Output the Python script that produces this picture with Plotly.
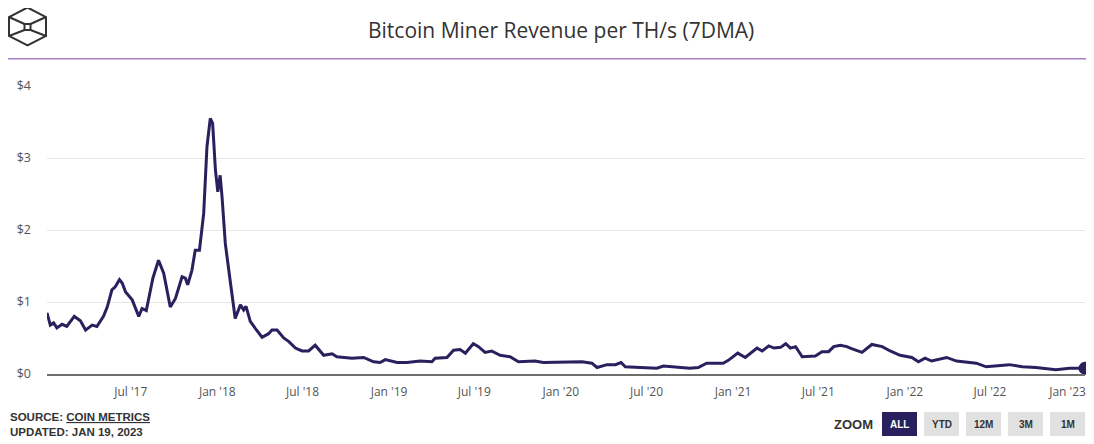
import plotly.graph_objects as go

# 7-day moving average of miner revenue per TH/s (USD)
dates = [
    "2017-01-04", "2017-01-11", "2017-01-18", "2017-01-25", "2017-02-05", "2017-02-15",
    "2017-03-03", "2017-03-16", "2017-03-27", "2017-04-10", "2017-04-20", "2017-05-04",
    "2017-05-12", "2017-05-22", "2017-05-29", "2017-06-07", "2017-06-13", "2017-06-20",
    "2017-07-04", "2017-07-18", "2017-07-25", "2017-08-03", "2017-08-17", "2017-08-29",
    "2017-09-09", "2017-09-23", "2017-10-04", "2017-10-18", "2017-10-25", "2017-10-30",
    "2017-11-08", "2017-11-15", "2017-11-24", "2017-12-03", "2017-12-10", "2017-12-17",
    "2017-12-22", "2017-12-28", "2018-01-02", "2018-01-07", "2018-01-11", "2018-01-18",
    "2018-01-29", "2018-02-08", "2018-02-19", "2018-02-26", "2018-03-03", "2018-03-12",
    "2018-03-23", "2018-04-06", "2018-04-20", "2018-04-27", "2018-05-08", "2018-05-22",
    "2018-06-02", "2018-06-16", "2018-06-30", "2018-07-14", "2018-07-28", "2018-08-15",
    "2018-09-02", "2018-09-12", "2018-10-14", "2018-11-08", "2018-11-29", "2018-12-13",
    "2018-12-24", "2019-01-18", "2019-02-08", "2019-03-08", "2019-04-02", "2019-04-09",
    "2019-05-04", "2019-05-18", "2019-06-01", "2019-06-12", "2019-06-29", "2019-07-10",
    "2019-07-24", "2019-08-07", "2019-08-25", "2019-09-15", "2019-10-03", "2019-10-21",
    "2019-11-07", "2019-11-25", "2019-12-31", "2020-02-15", "2020-03-07", "2020-03-18",
    "2020-04-08", "2020-04-26", "2020-05-08", "2020-05-17", "2020-06-18", "2020-07-23",
    "2020-08-06", "2020-09-03", "2020-10-01", "2020-10-19", "2020-11-06", "2020-12-11",
    "2020-12-22", "2021-01-11", "2021-01-27", "2021-02-21", "2021-03-04", "2021-03-18",
    "2021-03-29", "2021-04-12", "2021-04-23", "2021-05-03", "2021-05-14", "2021-05-28",
    "2021-06-11", "2021-06-25", "2021-07-09", "2021-07-23", "2021-08-03", "2021-08-17",
    "2021-08-31", "2021-09-07", "2021-10-02", "2021-10-23", "2021-11-14", "2021-12-01",
    "2021-12-22", "2022-01-16", "2022-01-30", "2022-02-13", "2022-02-27", "2022-03-13",
    "2022-03-31", "2022-04-21", "2022-05-12", "2022-06-02", "2022-06-23", "2022-07-14",
    "2022-08-11", "2022-09-08", "2022-10-07", "2022-11-18", "2022-12-17", "2023-01-19",
]
revenue = [
    0.85, 0.68, 0.71, 0.64, 0.69, 0.66,
    0.80, 0.74, 0.61, 0.68, 0.66, 0.80,
    0.93, 1.17, 1.21, 1.31, 1.26, 1.14,
    1.03, 0.80, 0.91, 0.88, 1.33, 1.58,
    1.40, 0.93, 1.05, 1.35, 1.33, 1.24,
    1.44, 1.72, 1.72, 2.23, 3.16, 3.55,
    3.48, 2.83, 2.53, 2.76, 2.46, 1.81,
    1.26, 0.77, 0.96, 0.89, 0.94, 0.73,
    0.63, 0.51, 0.56, 0.61, 0.61, 0.50,
    0.45, 0.36, 0.32, 0.32, 0.40, 0.26,
    0.28, 0.24, 0.22, 0.23, 0.17, 0.16,
    0.20, 0.16, 0.16, 0.18, 0.17, 0.22,
    0.23, 0.33, 0.34, 0.29, 0.42, 0.38,
    0.30, 0.32, 0.26, 0.24, 0.17, 0.17,
    0.18, 0.16, 0.16, 0.17, 0.15, 0.09,
    0.13, 0.13, 0.16, 0.10, 0.09, 0.08,
    0.11, 0.10, 0.08, 0.09, 0.15, 0.15,
    0.19, 0.29, 0.23, 0.36, 0.32, 0.39,
    0.36, 0.37, 0.42, 0.36, 0.38, 0.24,
    0.25, 0.25, 0.31, 0.31, 0.38, 0.40,
    0.38, 0.36, 0.30, 0.41, 0.38, 0.32,
    0.26, 0.23, 0.17, 0.22, 0.18, 0.20,
    0.23, 0.18, 0.16, 0.15, 0.10, 0.11,
    0.13, 0.10, 0.09, 0.06, 0.08, 0.08,
]

tick_dates = ["2017-07-01", "2018-01-01", "2018-07-01", "2019-01-01", "2019-07-01",
              "2020-01-01", "2020-07-01", "2021-01-01", "2021-07-01", "2022-01-01",
              "2022-07-01", "2022-12-13"]
tick_labels = ["Jul '17", "Jan '18", "Jul '18", "Jan '19", "Jul '19", "Jan '20",
               "Jul '20", "Jan '21", "Jul '21", "Jan '22", "Jul '22", "Jan '23"]
zoom_buttons = ["ALL", "YTD", "12M", "3M", "1M"]

NAVY = "#28215e"
OFF = 8  # the page body margin pushes the figure 8px right and down
W, H = 1094 - OFF, 444 - OFF
L, R, T, B = 47 - OFF, 9, 86 - OFF, 70
PW, PH = W - L - R, H - T - B


def px(x):
    # screen x (as measured on the reference) -> paper
    return (x - OFF - L) / PW


def py(y):
    # screen y -> paper
    return (H + OFF - B - y) / PH


fig = go.Figure()
fig.add_trace(go.Scatter(x=dates, y=revenue, mode="lines", line=dict(color=NAVY, width=3),
                         cliponaxis=False, hoverinfo="skip"))
fig.add_trace(go.Scatter(x=dates[-1:], y=revenue[-1:], mode="markers",
                         marker=dict(color=NAVY, size=13), cliponaxis=False, hoverinfo="skip"))

shapes = []
# header rule
shapes.append(dict(type="line", xref="paper", yref="paper", x0=px(8), x1=px(1094),
                   y0=py(58.7), y1=py(58.7), line=dict(color="#a57fc6", width=1.5)))
# logo: hexagon with inner cube
hexagon = [(27.5, 7.5), (46, 17), (46, 36), (27.5, 45.5), (9, 36), (9, 17)]
path = "M " + " L ".join(f"{px(a)},{py(b)}" for a, b in hexagon) + " Z"
shapes.append(dict(type="path", xref="paper", yref="paper", path=path,
                   line=dict(color="#333333", width=2)))
sq = [(24.5, 24), (30.5, 24), (30.5, 30), (24.5, 30)]
path = "M " + " L ".join(f"{px(a)},{py(b)}" for a, b in sq) + " Z"
shapes.append(dict(type="path", xref="paper", yref="paper", path=path,
                   line=dict(color="#333333", width=2)))
for (a, b), (c, d) in [((9, 17), sq[0]), ((46, 17), sq[1]), ((46, 36), sq[2]), ((9, 36), sq[3])]:
    shapes.append(dict(type="line", xref="paper", yref="paper", x0=px(a), y0=py(b),
                       x1=px(c), y1=py(d), line=dict(color="#333333", width=2)))

annotations = [
    dict(text="Bitcoin Miner Revenue per TH/s (7DMA)", x=px(561), y=py(30), xref="paper",
         yref="paper", showarrow=False, xanchor="center", yanchor="middle",
         font=dict(family="Open Sans", size=21, color="#333333")),
    dict(text="<b>SOURCE: <u>COIN METRICS</u></b>", x=px(8), y=py(417), xref="paper",
         yref="paper", showarrow=False, xanchor="left", yanchor="middle",
         font=dict(family="Liberation Sans", size=11.5, color="#333333")),
    dict(text="<b>UPDATED: JAN 19, 2023</b>", x=px(8), y=py(432), xref="paper",
         yref="paper", showarrow=False, xanchor="left", yanchor="middle",
         font=dict(family="Liberation Sans", size=11.5, color="#333333")),
    dict(text="<b>ZOOM</b>", x=px(875), y=py(424), xref="paper", yref="paper",
         showarrow=False, xanchor="right", yanchor="middle",
         font=dict(family="Liberation Sans", size=13, color="#333333")),
]

# range buttons
bx = 882
for i, lab in enumerate(zoom_buttons):
    active = i == 0
    shapes.append(dict(type="rect", xref="paper", yref="paper", x0=px(bx), x1=px(bx + 35),
                       y0=py(412), y1=py(436), fillcolor=NAVY if active else "#e1e1e1",
                       line=dict(width=0)))
    annotations.append(dict(text=f"<b>{lab}</b>", x=px(bx + 17.5), y=py(424), xref="paper",
                            yref="paper", showarrow=False, xanchor="center", yanchor="middle",
                            font=dict(family="Liberation Sans", size=10,
                                      color="white" if active else "#333333")))
    bx += 42

fig.update_layout(
    width=W, height=H,
    margin=dict(l=L, r=R, t=T, b=B),
    paper_bgcolor="white", plot_bgcolor="white",
    showlegend=False,
    shapes=shapes, annotations=annotations,
    xaxis=dict(range=["2017-01-04", "2023-01-19"], tickvals=tick_dates, ticktext=tick_labels,
               showgrid=False, zeroline=False, showline=True, linecolor="#6e6e6e",
               linewidth=2, ticks="", ticklabelstandoff=6,
               tickfont=dict(family="Open Sans", size=12, color="#555555")),
    yaxis=dict(range=[0, 4], dtick=1, tickprefix="$", showgrid=True, gridcolor="#e6e6e6",
               gridwidth=1, zeroline=False, ticks="", ticklabelstandoff=15,
               tickfont=dict(family="Open Sans", size=12.5, color="#555555")),
)

fig.write_html("out.html")
